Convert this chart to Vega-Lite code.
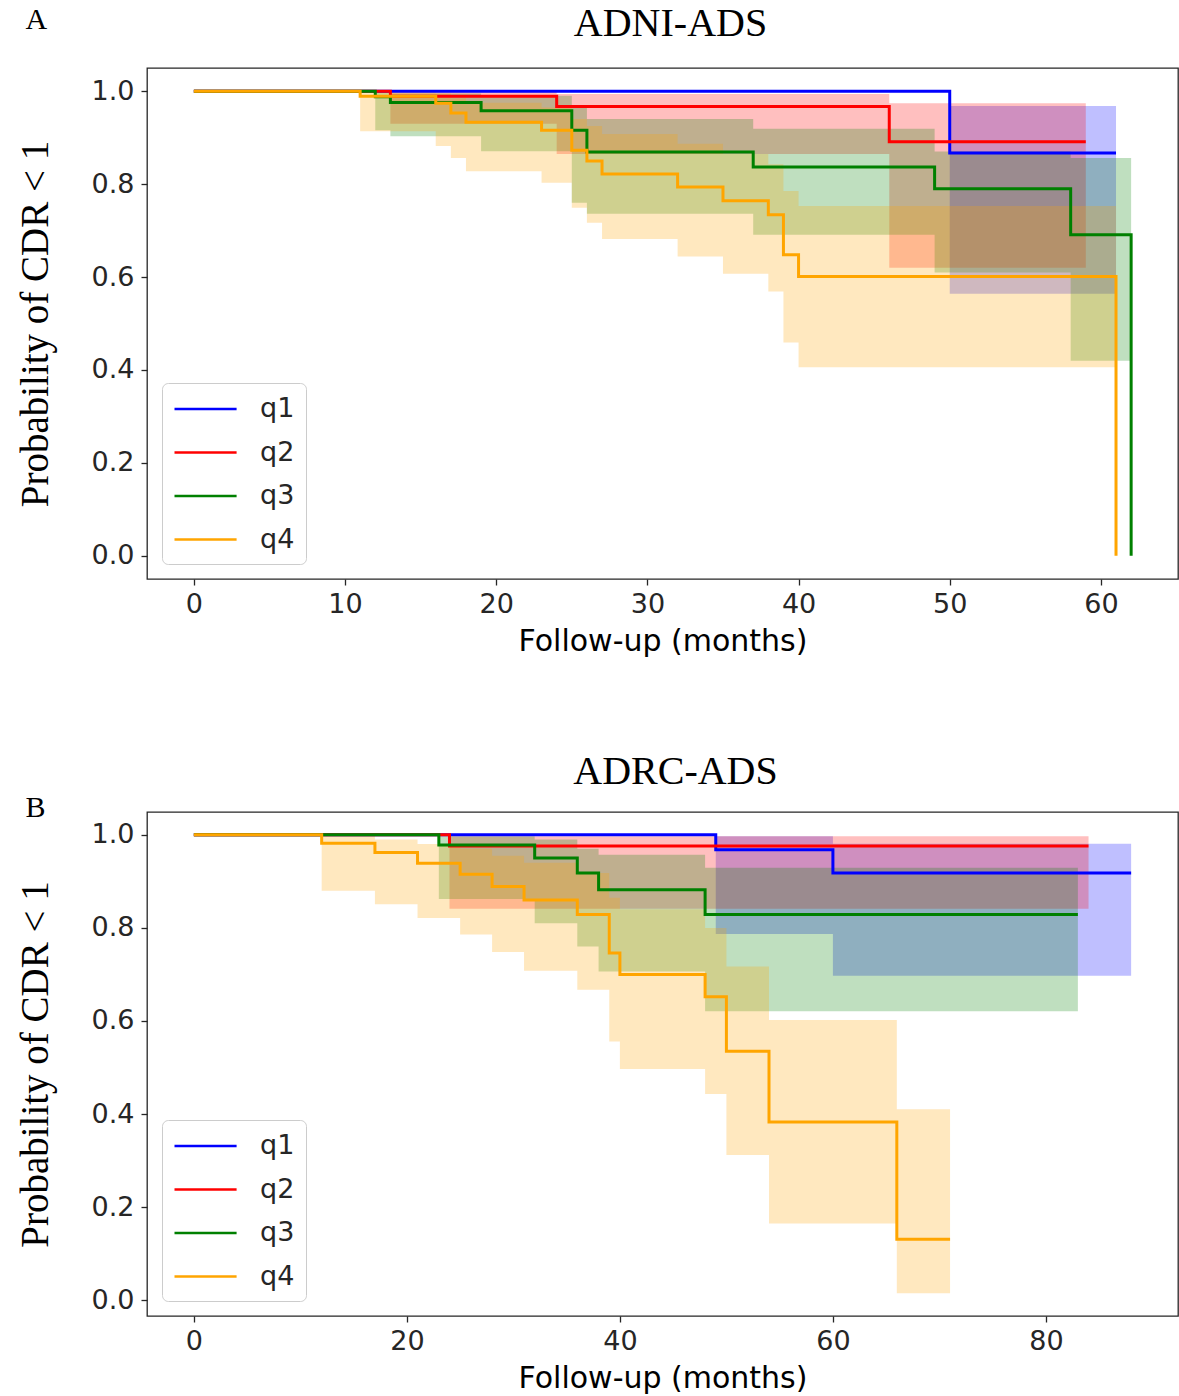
{
  "$schema": "https://vega.github.io/schema/vega-lite/v6.json",
  "padding": {"left": 15, "top": 3, "right": 0, "bottom": 0},
  "autosize": {"type": "pad"},
  "background": "white",
  "config": {
    "view": {"stroke": "#262626", "strokeWidth": 1.3},
    "axis": {"domain": false, "grid": false, "tickColor": "#262626", "tickSize": 6, "tickWidth": 1.3, "labelFont": "DejaVu Sans", "labelFontSize": 27, "labelColor": "#262626", "titleColor": "#000000", "titleFontWeight": "normal"},
    "axisY": {"titleFont": "Liberation Serif", "titleFontSize": 39, "titlePadding": 36, "labelPadding": 7},
    "axisX": {"titleFont": "DejaVu Sans", "titleFontSize": 30, "titlePadding": 9, "labelPadding": 6},
    "legend": {"orient": "bottom-left", "offset": 15, "symbolType": "M-1,0H3.6", "symbolSize": 729, "symbolStrokeWidth": 2.5, "labelFontSize": 27, "labelFont": "DejaVu Sans", "labelColor": "#262626", "labelOffset": 57, "rowPadding": 15.5, "padding": 11, "fillColor": "rgba(255,255,255,0.85)", "strokeColor": "#cccccc", "cornerRadius": 6},
    "title": {"font": "Liberation Serif", "fontWeight": "normal", "color": "#000000"}
  },
  "datasets": {
    "adni": [
      {"q": "q1", "t": 0, "s": 1, "lo": 1, "hi": 1},
      {"q": "q1", "t": 50, "s": 0.867, "lo": 0.564, "hi": 0.968},
      {"q": "q1", "t": 61, "s": 0.867, "lo": 0.564, "hi": 0.968},
      {"q": "q2", "t": 0, "s": 1, "lo": 1, "hi": 1},
      {"q": "q2", "t": 13, "s": 0.989, "lo": 0.93, "hi": 0.999},
      {"q": "q2", "t": 24, "s": 0.967, "lo": 0.865, "hi": 0.994},
      {"q": "q2", "t": 46, "s": 0.891, "lo": 0.62, "hi": 0.974},
      {"q": "q2", "t": 59, "s": 0.891, "lo": 0.62, "hi": 0.974},
      {"q": "q3", "t": 0, "s": 1, "lo": 1, "hi": 1},
      {"q": "q3", "t": 12, "s": 0.988, "lo": 0.916, "hi": 0.999},
      {"q": "q3", "t": 13, "s": 0.976, "lo": 0.903, "hi": 0.995},
      {"q": "q3", "t": 19, "s": 0.958, "lo": 0.871, "hi": 0.99},
      {"q": "q3", "t": 25, "s": 0.916, "lo": 0.76, "hi": 0.97},
      {"q": "q3", "t": 26, "s": 0.869, "lo": 0.736, "hi": 0.94},
      {"q": "q3", "t": 37, "s": 0.837, "lo": 0.691, "hi": 0.919},
      {"q": "q3", "t": 49, "s": 0.79, "lo": 0.61, "hi": 0.87},
      {"q": "q3", "t": 58, "s": 0.691, "lo": 0.42, "hi": 0.856},
      {"q": "q3", "t": 62, "s": 0, "lo": 0.42, "hi": 0.856},
      {"q": "q4", "t": 0, "s": 1, "lo": 1, "hi": 1},
      {"q": "q4", "t": 11, "s": 0.989, "lo": 0.914, "hi": 0.999},
      {"q": "q4", "t": 16, "s": 0.974, "lo": 0.882, "hi": 0.995},
      {"q": "q4", "t": 17, "s": 0.953, "lo": 0.856, "hi": 0.985},
      {"q": "q4", "t": 18, "s": 0.933, "lo": 0.828, "hi": 0.975},
      {"q": "q4", "t": 23, "s": 0.916, "lo": 0.803, "hi": 0.965},
      {"q": "q4", "t": 25, "s": 0.873, "lo": 0.749, "hi": 0.94},
      {"q": "q4", "t": 26, "s": 0.85, "lo": 0.717, "hi": 0.925},
      {"q": "q4", "t": 27, "s": 0.822, "lo": 0.682, "hi": 0.908},
      {"q": "q4", "t": 32, "s": 0.794, "lo": 0.644, "hi": 0.887},
      {"q": "q4", "t": 35, "s": 0.764, "lo": 0.607, "hi": 0.865},
      {"q": "q4", "t": 38, "s": 0.734, "lo": 0.569, "hi": 0.843},
      {"q": "q4", "t": 39, "s": 0.648, "lo": 0.459, "hi": 0.785},
      {"q": "q4", "t": 40, "s": 0.601, "lo": 0.406, "hi": 0.753},
      {"q": "q4", "t": 61, "s": 0, "lo": 0.406, "hi": 0.753}
    ],
    "adrc": [
      {"q": "q1", "t": 0, "s": 1, "lo": 1, "hi": 1},
      {"q": "q1", "t": 49, "s": 0.968, "lo": 0.787, "hi": 0.997},
      {"q": "q1", "t": 60, "s": 0.918, "lo": 0.697, "hi": 0.981},
      {"q": "q1", "t": 88, "s": 0.918, "lo": 0.697, "hi": 0.981},
      {"q": "q2", "t": 0, "s": 1, "lo": 1, "hi": 1},
      {"q": "q2", "t": 24, "s": 0.976, "lo": 0.841, "hi": 0.997},
      {"q": "q2", "t": 84, "s": 0.976, "lo": 0.841, "hi": 0.997},
      {"q": "q3", "t": 0, "s": 1, "lo": 1, "hi": 1},
      {"q": "q3", "t": 23, "s": 0.978, "lo": 0.862, "hi": 0.997},
      {"q": "q3", "t": 32, "s": 0.95, "lo": 0.81, "hi": 0.99},
      {"q": "q3", "t": 36, "s": 0.918, "lo": 0.76, "hi": 0.97},
      {"q": "q3", "t": 38, "s": 0.882, "lo": 0.706, "hi": 0.957},
      {"q": "q3", "t": 48, "s": 0.829, "lo": 0.621, "hi": 0.929},
      {"q": "q3", "t": 83, "s": 0.829, "lo": 0.621, "hi": 0.929},
      {"q": "q4", "t": 0, "s": 1, "lo": 1, "hi": 1},
      {"q": "q4", "t": 12, "s": 0.982, "lo": 0.88, "hi": 0.998},
      {"q": "q4", "t": 17, "s": 0.962, "lo": 0.851, "hi": 0.99},
      {"q": "q4", "t": 21, "s": 0.939, "lo": 0.821, "hi": 0.98},
      {"q": "q4", "t": 25, "s": 0.915, "lo": 0.786, "hi": 0.97},
      {"q": "q4", "t": 28, "s": 0.889, "lo": 0.748, "hi": 0.955},
      {"q": "q4", "t": 31, "s": 0.86, "lo": 0.708, "hi": 0.94},
      {"q": "q4", "t": 36, "s": 0.829, "lo": 0.667, "hi": 0.918},
      {"q": "q4", "t": 39, "s": 0.746, "lo": 0.556, "hi": 0.865},
      {"q": "q4", "t": 40, "s": 0.70, "lo": 0.497, "hi": 0.84},
      {"q": "q4", "t": 48, "s": 0.652, "lo": 0.443, "hi": 0.80},
      {"q": "q4", "t": 50, "s": 0.535, "lo": 0.312, "hi": 0.717},
      {"q": "q4", "t": 54, "s": 0.383, "lo": 0.165, "hi": 0.602},
      {"q": "q4", "t": 66, "s": 0.131, "lo": 0.015, "hi": 0.41},
      {"q": "q4", "t": 71, "s": 0.131, "lo": 0.015, "hi": 0.41}
    ]
  },
  "spacing": 94,
  "resolve": {"scale": {"x": "independent", "y": "independent", "stroke": "independent", "fill": "independent"}, "legend": {"stroke": "independent", "fill": "independent"}},
  "vconcat": [
    {
      "title": {"text": "A", "fontSize": 30, "anchor": "start", "frame": "bounds", "dx": 10, "dy": 32, "offset": 0},
      "resolve": {"scale": {"x": "independent", "y": "independent", "stroke": "independent", "fill": "independent"}, "legend": {"stroke": "independent", "fill": "independent"}},
      "vconcat": [
        {
          "title": {"text": "ADNI-ADS", "fontSize": 40, "anchor": "middle", "frame": "group", "offset": 24, "dx": 8},
          "width": 1031,
          "height": 511,
          "data": {"name": "adni"},
          "layer": [
            {
              "mark": {"type": "area", "interpolate": "step-after", "fillOpacity": 0.25},
              "encoding": {
                "x": {"field": "t", "type": "quantitative", "scale": {"domain": [-3.1, 65.1], "nice": false, "zero": false}, "axis": {"values": [0, 10, 20, 30, 40, 50, 60], "title": "Follow-up (months)"}},
                "y": {"field": "lo", "type": "quantitative", "scale": {"domain": [-0.05, 1.05], "nice": false, "zero": false}, "axis": {"values": [0, 0.2, 0.4, 0.6, 0.8, 1.0], "format": ".1f", "title": "Probability of CDR < 1"}},
                "y2": {"field": "hi"},
                "fill": {"field": "q", "type": "nominal", "scale": {"domain": ["q1", "q2", "q3", "q4"], "range": ["#0000ff", "#ff0000", "#008000", "#ffa500"]}, "legend": {"title": null}}
              }
            },
            {
              "mark": {"type": "line", "interpolate": "step-after", "strokeWidth": 3},
              "encoding": {
                "x": {"field": "t", "type": "quantitative", "scale": {"domain": [-3.1, 65.1], "nice": false, "zero": false}, "axis": {"values": [0, 10, 20, 30, 40, 50, 60], "title": "Follow-up (months)"}},
                "y": {"field": "s", "type": "quantitative", "scale": {"domain": [-0.05, 1.05], "nice": false, "zero": false}, "axis": {"values": [0, 0.2, 0.4, 0.6, 0.8, 1.0], "format": ".1f", "title": "Probability of CDR < 1"}},
                "stroke": {"field": "q", "type": "nominal", "scale": {"domain": ["q1", "q2", "q3", "q4"], "range": ["#0000ff", "#ff0000", "#008000", "#ffa500"]}, "legend": {"title": null}}
              }
            }
          ]
        }
      ]
    },
    {
      "title": {"text": "B", "fontSize": 30, "anchor": "start", "frame": "bounds", "dx": 10, "dy": 72, "offset": 0},
      "resolve": {"scale": {"x": "independent", "y": "independent", "stroke": "independent", "fill": "independent"}, "legend": {"stroke": "independent", "fill": "independent"}},
      "vconcat": [
        {
          "title": {"text": "ADRC-ADS", "fontSize": 40, "anchor": "middle", "frame": "group", "offset": 20, "dx": 13},
          "width": 1031,
          "height": 504,
          "data": {"name": "adrc"},
          "layer": [
            {
              "mark": {"type": "area", "interpolate": "step-after", "fillOpacity": 0.25},
              "encoding": {
                "x": {"field": "t", "type": "quantitative", "scale": {"domain": [-4.4, 92.4], "nice": false, "zero": false}, "axis": {"values": [0, 20, 40, 60, 80], "title": "Follow-up (months)"}},
                "y": {"field": "lo", "type": "quantitative", "scale": {"domain": [-0.034, 1.049], "nice": false, "zero": false}, "axis": {"values": [0, 0.2, 0.4, 0.6, 0.8, 1.0], "format": ".1f", "title": "Probability of CDR < 1"}},
                "y2": {"field": "hi"},
                "fill": {"field": "q", "type": "nominal", "scale": {"domain": ["q1", "q2", "q3", "q4"], "range": ["#0000ff", "#ff0000", "#008000", "#ffa500"]}, "legend": {"title": null}}
              }
            },
            {
              "mark": {"type": "line", "interpolate": "step-after", "strokeWidth": 3},
              "encoding": {
                "x": {"field": "t", "type": "quantitative", "scale": {"domain": [-4.4, 92.4], "nice": false, "zero": false}, "axis": {"values": [0, 20, 40, 60, 80], "title": "Follow-up (months)"}},
                "y": {"field": "s", "type": "quantitative", "scale": {"domain": [-0.034, 1.049], "nice": false, "zero": false}, "axis": {"values": [0, 0.2, 0.4, 0.6, 0.8, 1.0], "format": ".1f", "title": "Probability of CDR < 1"}},
                "stroke": {"field": "q", "type": "nominal", "scale": {"domain": ["q1", "q2", "q3", "q4"], "range": ["#0000ff", "#ff0000", "#008000", "#ffa500"]}, "legend": {"title": null}}
              }
            }
          ]
        }
      ]
    }
  ]
}
